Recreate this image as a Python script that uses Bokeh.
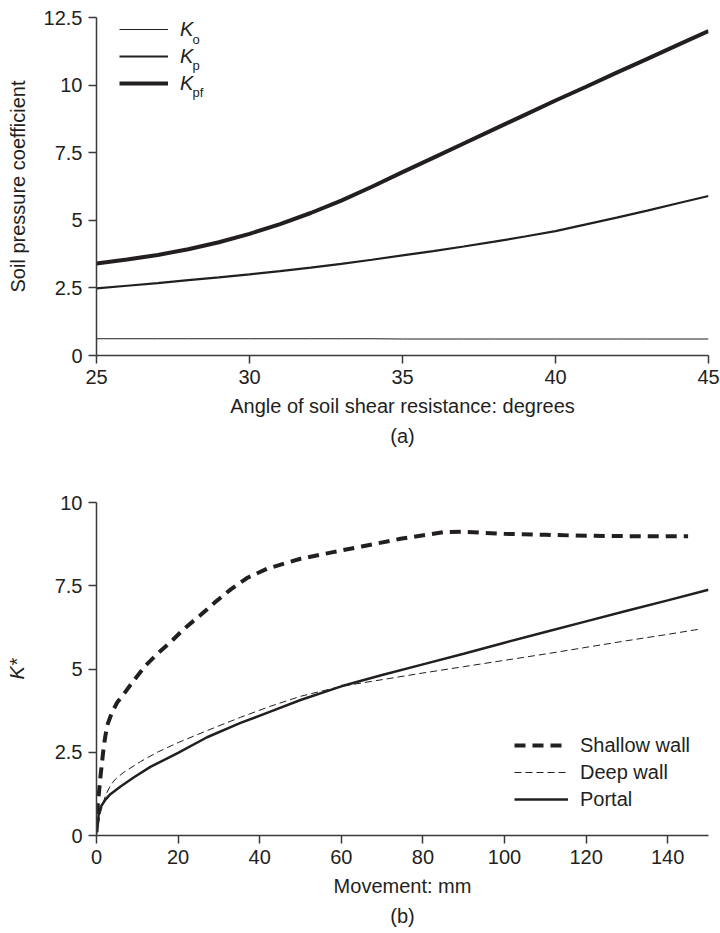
from bokeh.plotting import figure
from bokeh.layouts import column
from bokeh.models import Legend, LegendItem, Label, Title, FixedTicker, Range1d
from bokeh.embed import file_html
from bokeh.resources import INLINE

INK = "#231f20"
AXIS = "#3a3a3a"
FONT = "Liberation Sans"

# ---- (a) soil pressure coefficients against angle of shear resistance ----
phi_deg = [25, 26, 27, 28, 29, 30, 31, 32, 33, 34, 35,
           36, 37, 38, 39, 40, 41, 42, 43, 44, 45]
k_o = [0.62, 0.62, 0.62, 0.62, 0.62, 0.62, 0.62, 0.62, 0.62, 0.62, 0.61,
       0.61, 0.61, 0.61, 0.61, 0.61, 0.61, 0.61, 0.61, 0.61, 0.61]
k_p = [2.48, 2.58, 2.68, 2.79, 2.89, 3.00, 3.12, 3.25, 3.39, 3.54, 3.70,
       3.86, 4.03, 4.21, 4.40, 4.60, 4.85, 5.10, 5.36, 5.63, 5.90]
k_pf = [3.40, 3.55, 3.72, 3.93, 4.19, 4.50, 4.86, 5.27, 5.73, 6.24, 6.78,
        7.31, 7.84, 8.37, 8.90, 9.43, 9.94, 10.46, 10.97, 11.49, 12.00]

a_xticks = [25, 30, 35, 40, 45]
a_yticks = [0, 2.5, 5, 7.5, 10, 12.5]
a_ytick_labels = ["0", "2.5", "5", "7.5", "10", "12.5"]

# ---- (b) mobilised K* against wall movement ----
shallow_mm = [0, 0.3, 1, 1.8, 2.6, 3.8, 5.1, 6.7, 9.1, 12, 15.3, 18.5, 21.4,
              25.5, 29, 33, 37, 41.8, 50, 58, 65, 74.5, 85, 90, 100, 110,
              120, 130, 145]
shallow_k = [0.1, 0.9, 1.8, 2.7, 3.3, 3.7, 4.0, 4.25, 4.65, 5.1, 5.5, 5.85,
             6.2, 6.62, 7.0, 7.4, 7.74, 8.01, 8.31, 8.51, 8.68, 8.91, 9.11,
             9.12, 9.06, 9.03, 9.0, 8.99, 8.99]

deep_mm = [0, 1, 2.2, 3.4, 4.7, 6.7, 10.8, 14.9, 20.2, 27.1, 35.3, 42.6,
           50, 60, 70, 80, 90, 100, 110, 120, 130, 140, 148]
deep_k = [0.0, 0.7, 1.2, 1.5, 1.7, 1.9, 2.22, 2.5, 2.8, 3.15, 3.55, 3.88,
          4.18, 4.48, 4.68, 4.88, 5.07, 5.26, 5.45, 5.65, 5.85, 6.04, 6.2]

portal_mm = [0.2, 0.5, 1.0, 2.2, 3.4, 5.9, 9.1, 13.2, 20, 27.1, 35.3, 42.6,
             50, 60, 70, 80, 90, 100, 110, 120, 130, 140, 150]
portal_k = [0.25, 0.6, 0.85, 1.08, 1.24, 1.47, 1.74, 2.06, 2.48, 2.95, 3.38,
            3.72, 4.07, 4.48, 4.82, 5.14, 5.46, 5.79, 6.11, 6.43, 6.75,
            7.06, 7.38]

b_xticks = [0, 20, 40, 60, 80, 100, 120, 140]
b_yticks = [0, 2.5, 5, 7.5, 10]
b_ytick_labels = ["0", "2.5", "5", "7.5", "10"]


def style_axes(p):
    p.outline_line_color = None
    p.grid.visible = False
    p.background_fill_color = "white"
    p.border_fill_color = "white"
    for ax in p.axis:
        ax.axis_line_color = AXIS
        ax.axis_line_width = 1.5
        ax.major_tick_line_color = AXIS
        ax.major_tick_line_width = 1.5
        ax.major_tick_out = 8
        ax.major_tick_in = 0
        ax.minor_tick_out = 0
        ax.minor_tick_in = 0
        ax.major_label_text_font = FONT
        ax.major_label_text_font_size = "20px"
        ax.major_label_text_color = INK
        ax.axis_label_text_font = FONT
        ax.axis_label_text_font_size = "20px"
        ax.axis_label_text_font_style = "normal"
        ax.axis_label_text_color = INK
        ax.major_label_standoff = 6


def panel_title(p, text):
    p.add_layout(Title(text=text, align="center", text_font=FONT,
                       text_font_size="20px", text_font_style="normal",
                       text_color=INK, standoff=6), "below")


# ------------------------------ panel (a) ------------------------------
p1 = figure(width=720, height=460, output_backend="svg", toolbar_location=None,
            x_range=Range1d(25, 45), y_range=Range1d(0, 12.5),
            min_border_left=96, min_border_right=12,
            min_border_top=17, min_border_bottom=105)
style_axes(p1)
p1.xaxis.ticker = FixedTicker(ticks=a_xticks)
p1.yaxis.ticker = FixedTicker(ticks=a_yticks)
p1.yaxis.major_label_overrides = dict(zip(a_yticks, a_ytick_labels))
p1.xaxis.axis_label = "Angle of soil shear resistance: degrees"
p1.yaxis.axis_label = "Soil pressure coefficient"
p1.xaxis.axis_label_standoff = 8
p1.yaxis.axis_label_standoff = 12

r_o = p1.line(phi_deg, k_o, line_color=INK, line_width=1)
r_p = p1.line(phi_deg, k_p, line_color=INK, line_width=2.2)
r_pf = p1.line(phi_deg, k_pf, line_color=INK, line_width=4)

leg1 = Legend(items=[LegendItem(label="K", renderers=[r_o]),
                     LegendItem(label="K", renderers=[r_p]),
                     LegendItem(label="K", renderers=[r_pf])],
              location=(23, 260), glyph_width=49, glyph_height=24,
              label_height=24, spacing=3, label_standoff=12,
              padding=0, margin=0, border_line_color=None,
              background_fill_alpha=0,
              label_text_font=FONT, label_text_font_size="20px",
              label_text_font_style="italic", label_text_color=INK)
p1.add_layout(leg1, "center")

# subscripts of the legend symbols
for sub, y in [("o", 316), ("p", 290), ("pf", 263)]:
    p1.add_layout(Label(x=96, y=y, x_units="screen", y_units="screen",
                        text=sub, text_font=FONT, text_font_size="13px",
                        text_color=INK, text_baseline="alphabetic"))
panel_title(p1, "(a)")

# ------------------------------ panel (b) ------------------------------
p2 = figure(width=720, height=473, output_backend="svg", toolbar_location=None,
            x_range=Range1d(0, 150), y_range=Range1d(0, 10),
            min_border_left=96, min_border_right=12,
            min_border_top=42, min_border_bottom=98)
style_axes(p2)
p2.xaxis.ticker = FixedTicker(ticks=b_xticks)
p2.yaxis.ticker = FixedTicker(ticks=b_yticks)
p2.yaxis.major_label_overrides = dict(zip(b_yticks, b_ytick_labels))
p2.xaxis.axis_label = "Movement: mm"
p2.yaxis.axis_label = "K*"
p2.yaxis.axis_label_text_font_style = "italic"
p2.xaxis.axis_label_standoff = 8
p2.yaxis.axis_label_standoff = 24

r_sh = p2.line(shallow_mm, shallow_k, line_color=INK, line_width=4,
               line_dash="11 7")
r_dp = p2.line(deep_mm, deep_k, line_color=INK, line_width=1,
               line_dash="7 4")
r_pt = p2.line(portal_mm, portal_k, line_color=INK, line_width=2.5)

leg2 = Legend(items=[LegendItem(label="Shallow wall", renderers=[r_sh]),
                     LegendItem(label="Deep wall", renderers=[r_dp]),
                     LegendItem(label="Portal", renderers=[r_pt])],
              location=(418, 24), glyph_width=54, glyph_height=24,
              label_height=24, spacing=3, label_standoff=12,
              padding=0, margin=0, border_line_color=None,
              background_fill_alpha=0,
              label_text_font=FONT, label_text_font_size="20px",
              label_text_color=INK)
p2.add_layout(leg2, "center")
panel_title(p2, "(b)")

layout = column(p1, p2, spacing=0)
open("out.html", "w").write(file_html(layout, INLINE))
